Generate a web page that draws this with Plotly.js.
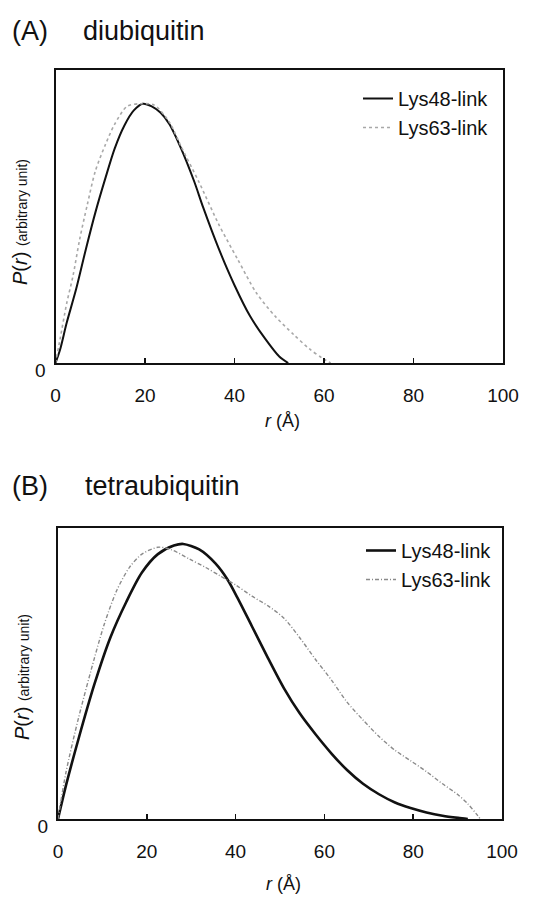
<!DOCTYPE html>
<html>
<head>
<meta charset="utf-8">
<script src="https://cdn.plot.ly/plotly-3.0.1.min.js"></script>
<style>html,body{margin:0;padding:0;background:#fff;}#chart{width:551px;height:897px;}</style>
</head>
<body>
<div id="chart"></div>
<script>
// (A) diubiquitin
const rA48 = [0,1,2.5,4.6,6.8,8.9,11.1,13.2,15.4,17.5,19.5,21.5,23.5,25.5,28,31,33,36.5,40,43.5,47,50,52];
const pA48 = [0,0.05,0.155,0.284,0.44,0.58,0.71,0.826,0.916,0.974,1.0,0.99,0.965,0.92,0.83,0.70,0.60,0.44,0.30,0.18,0.09,0.025,0];
const rA63 = [0,1,2.5,3.9,5.4,7.1,8.9,11.1,13.2,16,19,22,25.4,28.2,32,36.5,40.7,44.9,49.1,53.2,56.7,59.5,61.5];
const pA63 = [0,0.09,0.23,0.335,0.477,0.61,0.74,0.84,0.92,0.99,1.0,0.995,0.93,0.83,0.70,0.534,0.40,0.27,0.18,0.11,0.055,0.02,0];
// (B) tetraubiquitin
const rB48 = [0,1.8,4.6,8.2,11.8,15.4,18.9,22.5,26.1,28.2,31.8,35.4,38.2,40.4,43.7,47.3,50.9,54.4,58,61.6,65.1,68.7,72.3,75.9,79.4,83,86.6,90.1,92.3];
const pB48 = [0,0.122,0.29,0.49,0.66,0.79,0.896,0.963,0.994,1.0,0.98,0.93,0.87,0.805,0.70,0.585,0.475,0.385,0.308,0.238,0.178,0.128,0.09,0.06,0.04,0.024,0.012,0.004,0];
const rB63 = [0,1.8,4.6,8.2,10.4,13.2,16.1,18.9,22.5,25.4,29.6,33.2,36.4,40.1,43.7,47.3,50.9,54.4,58,61.6,65.1,68.7,72.3,75.9,79.4,83,86.6,90.1,92.3,94.4,95.1];
const pB63 = [0,0.17,0.366,0.585,0.707,0.83,0.915,0.963,0.988,0.98,0.945,0.915,0.885,0.85,0.81,0.775,0.73,0.66,0.58,0.505,0.425,0.36,0.3,0.25,0.212,0.172,0.128,0.088,0.055,0.015,0];

const seriesNames = ['Lys48-link','Lys63-link'];
const xTicks = [0,20,40,60,80,100];
const FONT = 'Liberation Sans, Arial, sans-serif';

const traces = [
  {x:rA48, y:pA48, name:seriesNames[0], xaxis:'x', yaxis:'y', legend:'legend', mode:'lines', line:{color:'#111', width:2, shape:'spline', smoothing:0.8}},
  {x:rA63, y:pA63, name:seriesNames[1], xaxis:'x', yaxis:'y', legend:'legend', mode:'lines', line:{color:'#a8a8a8', width:1.6, dash:'dot', shape:'spline', smoothing:0.8}},
  {x:rB48, y:pB48, name:seriesNames[0], xaxis:'x2', yaxis:'y2', legend:'legend2', mode:'lines', line:{color:'#111', width:2.6, shape:'spline', smoothing:0.8}},
  {x:rB63, y:pB63, name:seriesNames[1], xaxis:'x2', yaxis:'y2', legend:'legend2', mode:'lines', line:{color:'#8a8a8a', width:1.4, dash:'4px,2px,1px,2px', shape:'spline', smoothing:0.8}}
];

function xax(domain, anchor){
  return {domain:domain, anchor:anchor, range:[0,100], tickvals:xTicks, ticks:'inside', ticklen:5, tickwidth:1.5, tickcolor:'#111',
    showline:true, linecolor:'#111', linewidth:2, mirror:true, showgrid:false, zeroline:false,
    tickfont:{family:FONT, size:19, color:'#111'}, ticklabelstandoff:14};
}
function yax(domain, anchor, top){
  return {domain:domain, anchor:anchor, range:[0,top], tickvals:[0], ticktext:['0'], ticks:'',
    showline:true, linecolor:'#111', linewidth:2, mirror:true, showgrid:false, zeroline:false,
    tickfont:{family:FONT, size:19, color:'#111'}, ticklabelshift:7, ticklabelstandoff:4};
}

const ytitle = '<i>P</i>(<i>r</i>) <span style="font-size:14px">(arbitrary unit)</span>';
const anns = [
  {text:'(A)', x:10/551, y:1-31/897, xanchor:'left', yanchor:'middle'},
  {text:'diubiquitin', x:81/551, y:1-31/897, xanchor:'left', yanchor:'middle'},
  {text:'(B)', x:10/551, y:1-486/897, xanchor:'left', yanchor:'middle'},
  {text:'tetraubiquitin', x:83/551, y:1-486/897, xanchor:'left', yanchor:'middle'},
].map(a=>Object.assign(a,{xref:'paper', yref:'paper', showarrow:false, font:{family:FONT, size:27, color:'#111'}}));
[[282,421],[283,884]].forEach(p=>anns.push({text:'<i>r</i> (Å)', x:p[0]/551, y:1-p[1]/897, xref:'paper', yref:'paper', showarrow:false, xanchor:'center', yanchor:'middle', font:{family:FONT, size:18, color:'#111'}}));
[[20,222],[22,677]].forEach(p=>anns.push({text:ytitle, x:p[0]/551, y:1-p[1]/897, xref:'paper', yref:'paper', showarrow:false, textangle:-90, xanchor:'center', yanchor:'middle', font:{family:FONT, size:20, color:'#111'}}));

const legStyle = {font:{family:FONT, size:20, color:'#111'}, bgcolor:'rgba(0,0,0,0)', xanchor:'right', yanchor:'top', tracegroupgap:0, itemwidth:30};
const layout = {
  width:551, height:897, margin:{l:0,r:0,t:0,b:0}, paper_bgcolor:'#fff', plot_bgcolor:'#fff',
  font:{family:FONT, color:'#111'},
  xaxis: xax([55.5/551, 503/551], 'y'),
  yaxis: yax([1-363/897, 1-70/897], 'x', 1.13),
  xaxis2: xax([58/551, 502/551], 'y2'),
  yaxis2: yax([1-819/897, 1-528/897], 'x2', 1.058),
  legend: Object.assign({x:494/551, y:1-79/897}, legStyle),
  legend2: Object.assign({x:497/551, y:1-531/897}, legStyle),
  annotations: anns
};
Plotly.newPlot('chart', traces, layout, {displayModeBar:false, staticPlot:true});
</script>
</body>
</html>
